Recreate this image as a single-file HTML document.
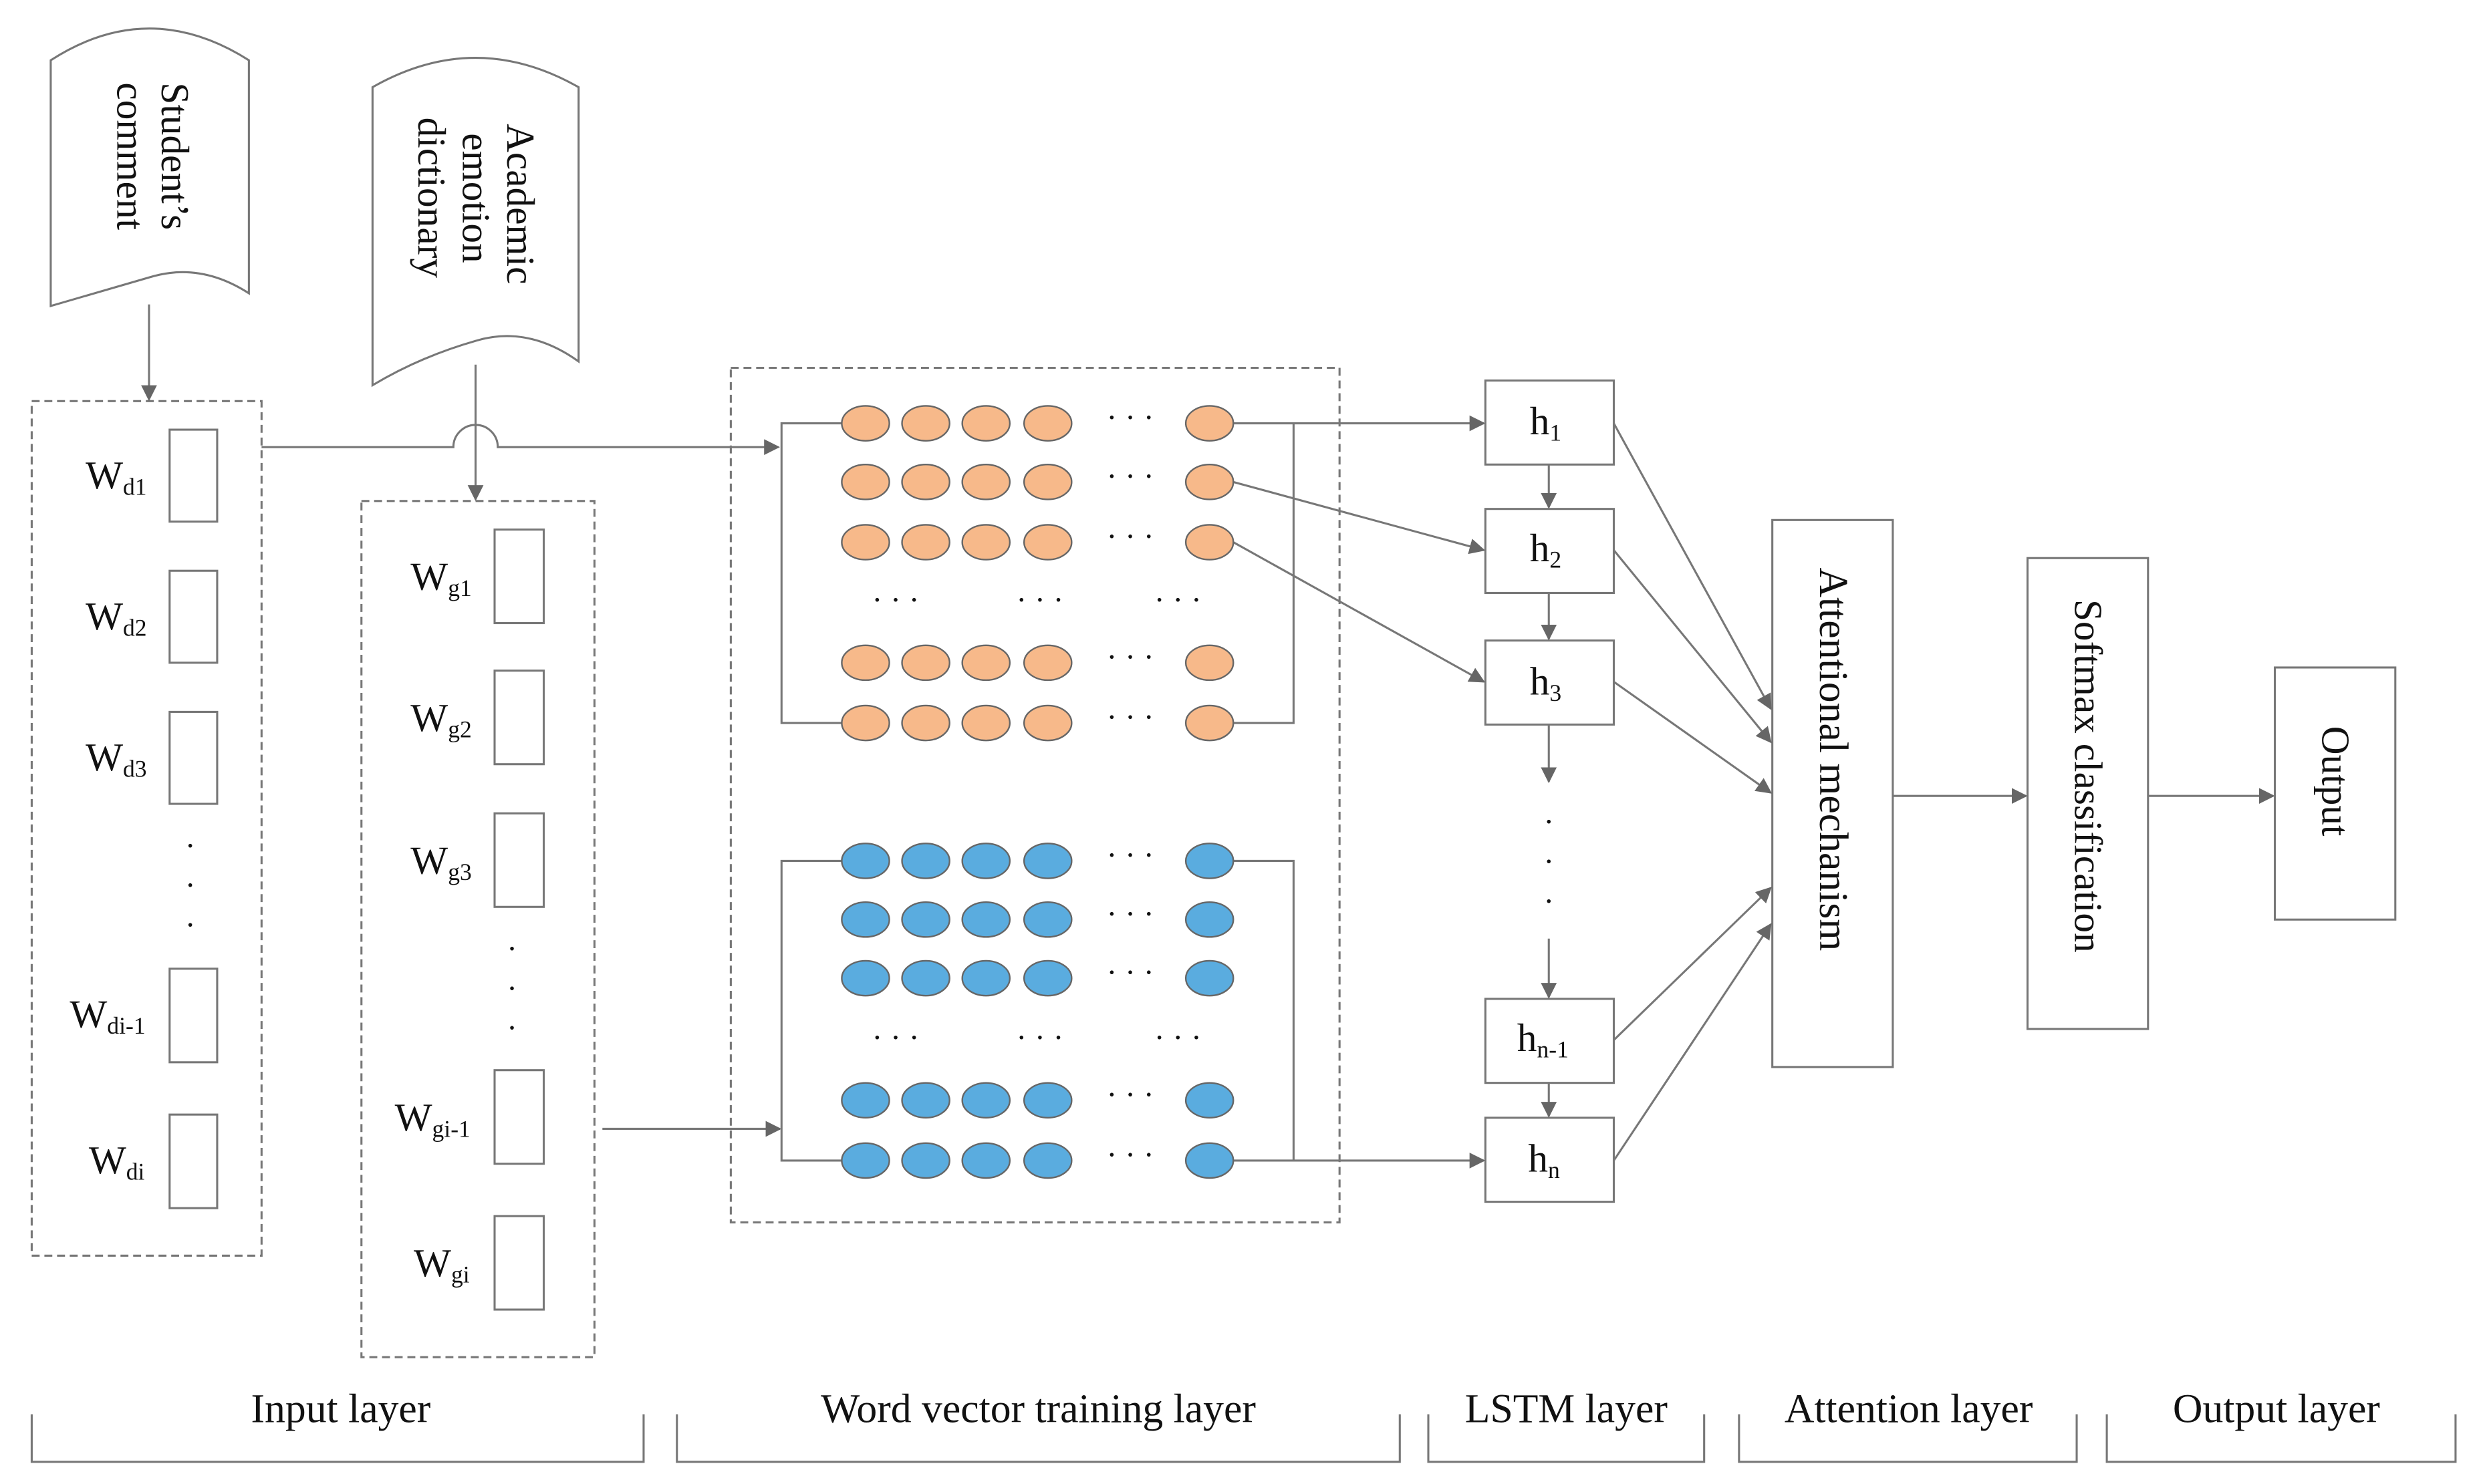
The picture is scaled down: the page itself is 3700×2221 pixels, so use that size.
<!DOCTYPE html>
<html><head><meta charset="utf-8"><style>
html,body{margin:0;padding:0;background:#fff;}
svg{display:block;}
text{font-family:"Liberation Serif",serif;fill:#111;}
</style></head><body>
<svg width="3700" height="2221" viewBox="0 0 1560 936" preserveAspectRatio="none" xmlns="http://www.w3.org/2000/svg">
<defs>
<marker id="a" markerWidth="10" markerHeight="10" refX="9" refY="5" orient="auto" markerUnits="userSpaceOnUse">
<path d="M0,0 L10,5 L0,10 z" fill="#666"/></marker>
<g id="or"><ellipse cx="546" cy="0" rx="15" ry="11"/><ellipse cx="584" cy="0" rx="15" ry="11"/><ellipse cx="622" cy="0" rx="15" ry="11"/><ellipse cx="661" cy="0" rx="15" ry="11"/><ellipse cx="763" cy="0" rx="15" ry="11"/></g>
</defs>
<g fill="none" stroke="#777" stroke-width="1.3">
<path d="M32,38 Q94,-2 157,38 L157,185 Q126,165 94,175 Q60,185 32,193 Z" fill="#fff"/>
<path d="M235,55 Q300,18 365,55 L365,228 Q333,205 300,215 Q265,225 235,243 Z" fill="#fff"/>
<rect x="20" y="253" width="145" height="539" stroke-dasharray="5,3"/>
<rect x="228" y="316" width="147" height="540" stroke-dasharray="5,3"/>
<rect x="461" y="232" width="384" height="539" stroke-dasharray="5,3"/>
<rect x="107" y="271" width="30" height="58"/><rect x="107" y="360" width="30" height="58"/>
<rect x="107" y="449" width="30" height="58"/><rect x="107" y="611" width="30" height="59"/>
<rect x="107" y="703" width="30" height="59"/>
<rect x="312" y="334" width="31" height="59"/><rect x="312" y="423" width="31" height="59"/>
<rect x="312" y="513" width="31" height="59"/><rect x="312" y="675" width="31" height="59"/>
<rect x="312" y="767" width="31" height="59"/>
<line x1="94" y1="192" x2="94" y2="252" marker-end="url(#a)"/>
<path d="M165,282 L286,282 A14,14 0 0 1 314,282 L491,282" marker-end="url(#a)"/>
<line x1="300" y1="230" x2="300" y2="315" marker-end="url(#a)"/>
<line x1="380" y1="712" x2="492" y2="712" marker-end="url(#a)"/>
<path d="M531,267 L493,267 L493,456 L531,456"/>
<path d="M778,267 L816,267 L816,456 L778,456"/>
<path d="M531,543 L493,543 L493,732 L531,732"/>
<path d="M778,543 L816,543 L816,732 L778,732"/>
<line x1="816" y1="267" x2="936" y2="267" marker-end="url(#a)"/>
<line x1="778" y1="304" x2="936" y2="347" marker-end="url(#a)"/>
<line x1="778" y1="342" x2="936" y2="430" marker-end="url(#a)"/>
<line x1="816" y1="732" x2="936" y2="732" marker-end="url(#a)"/>
<rect x="937" y="240" width="81" height="53"/><rect x="937" y="321" width="81" height="53"/>
<rect x="937" y="404" width="81" height="53"/><rect x="937" y="630" width="81" height="53"/>
<rect x="937" y="705" width="81" height="53"/>
<line x1="977" y1="293" x2="977" y2="320" marker-end="url(#a)"/>
<line x1="977" y1="374" x2="977" y2="403" marker-end="url(#a)"/>
<line x1="977" y1="457" x2="977" y2="493" marker-end="url(#a)"/>
<line x1="977" y1="592" x2="977" y2="629" marker-end="url(#a)"/>
<line x1="977" y1="683" x2="977" y2="704" marker-end="url(#a)"/>
<rect x="1118" y="328" width="76" height="345"/>
<line x1="1018" y1="267" x2="1117" y2="447" marker-end="url(#a)"/>
<line x1="1018" y1="347" x2="1117" y2="468" marker-end="url(#a)"/>
<line x1="1018" y1="430" x2="1117" y2="500" marker-end="url(#a)"/>
<line x1="1018" y1="656" x2="1117" y2="560" marker-end="url(#a)"/>
<line x1="1018" y1="732" x2="1117" y2="583" marker-end="url(#a)"/>
<line x1="1194" y1="502" x2="1278" y2="502" marker-end="url(#a)"/>
<rect x="1279" y="352" width="76" height="297"/>
<line x1="1355" y1="502" x2="1434" y2="502" marker-end="url(#a)"/>
<rect x="1435" y="421" width="76" height="159"/>
<path d="M20,892 L20,922 L406,922 L406,892"/>
<path d="M427,892 L427,922 L883,922 L883,892"/>
<path d="M901,892 L901,922 L1075,922 L1075,892"/>
<path d="M1097,892 L1097,922 L1310,922 L1310,892"/>
<path d="M1329,892 L1329,922 L1549,922 L1549,892"/>
</g>
<g stroke="#666" stroke-width="1">
<g fill="#F7B98A">
<use href="#or" y="267"/><use href="#or" y="304"/><use href="#or" y="342"/><use href="#or" y="418"/><use href="#or" y="456"/>
</g>
<g fill="#5AACDF">
<use href="#or" y="543"/><use href="#or" y="580"/><use href="#or" y="617"/><use href="#or" y="694"/><use href="#or" y="732"/>
</g>
</g>
<g font-size="20" fill="#111">
<text x="713" y="270" text-anchor="middle">· · ·</text><text x="713" y="307" text-anchor="middle">· · ·</text>
<text x="713" y="345" text-anchor="middle">· · ·</text><text x="713" y="421" text-anchor="middle">· · ·</text>
<text x="713" y="459" text-anchor="middle">· · ·</text>
<text x="713" y="546" text-anchor="middle">· · ·</text><text x="713" y="583" text-anchor="middle">· · ·</text>
<text x="713" y="620" text-anchor="middle">· · ·</text><text x="713" y="697" text-anchor="middle">· · ·</text>
<text x="713" y="735" text-anchor="middle">· · ·</text>
<text x="565" y="385" text-anchor="middle">· · ·</text><text x="656" y="385" text-anchor="middle">· · ·</text><text x="743" y="385" text-anchor="middle">· · ·</text>
<text x="565" y="661" text-anchor="middle">· · ·</text><text x="656" y="661" text-anchor="middle">· · ·</text><text x="743" y="661" text-anchor="middle">· · ·</text>
<text x="120" y="540" text-anchor="middle">·</text><text x="120" y="565" text-anchor="middle">·</text><text x="120" y="590" text-anchor="middle">·</text>
<text x="323" y="605" text-anchor="middle">·</text><text x="323" y="630" text-anchor="middle">·</text><text x="323" y="655" text-anchor="middle">·</text>
<text x="977" y="525" text-anchor="middle">·</text><text x="977" y="550" text-anchor="middle">·</text><text x="977" y="575" text-anchor="middle">·</text>
</g>
<g font-size="25">
<text transform="translate(102,52) rotate(90)">Student’s</text>
<text transform="translate(74,52) rotate(90)">comment</text>
<text transform="translate(320,78) rotate(90)">Academic</text>
<text transform="translate(292,84) rotate(90)">emotion</text>
<text transform="translate(264,74) rotate(90)">dictionary</text>
<text x="54" y="308">W<tspan font-size="15" dy="4">d1</tspan></text>
<text x="54" y="397">W<tspan font-size="15" dy="4">d2</tspan></text>
<text x="54" y="486">W<tspan font-size="15" dy="4">d3</tspan></text>
<text x="44" y="648">W<tspan font-size="15" dy="4">di-1</tspan></text>
<text x="56" y="740">W<tspan font-size="15" dy="4">di</tspan></text>
<text x="259" y="372">W<tspan font-size="15" dy="4">g1</tspan></text>
<text x="259" y="461">W<tspan font-size="15" dy="4">g2</tspan></text>
<text x="259" y="551">W<tspan font-size="15" dy="4">g3</tspan></text>
<text x="249" y="713">W<tspan font-size="15" dy="4">gi-1</tspan></text>
<text x="261" y="805">W<tspan font-size="15" dy="4">gi</tspan></text>
<text x="965" y="274">h<tspan font-size="15" dy="4">1</tspan></text>
<text x="965" y="354">h<tspan font-size="15" dy="4">2</tspan></text>
<text x="965" y="438">h<tspan font-size="15" dy="4">3</tspan></text>
<text x="957" y="663">h<tspan font-size="15" dy="4">n-1</tspan></text>
<text x="964" y="739">h<tspan font-size="15" dy="4">n</tspan></text>
<text transform="translate(1148,358) rotate(90)" font-size="26">Attentional mechanism</text>
<text transform="translate(1309,378) rotate(90)">Softmax classification</text>
<text transform="translate(1465,458) rotate(90)">Output</text>
<text x="215" y="897" text-anchor="middle" font-size="26">Input layer</text>
<text x="655" y="897" text-anchor="middle" font-size="26">Word vector training layer</text>
<text x="988" y="897" text-anchor="middle" font-size="26">LSTM layer</text>
<text x="1204" y="897" text-anchor="middle" font-size="26">Attention layer</text>
<text x="1436" y="897" text-anchor="middle" font-size="26">Output layer</text>
</g>
</svg>
</body></html>
